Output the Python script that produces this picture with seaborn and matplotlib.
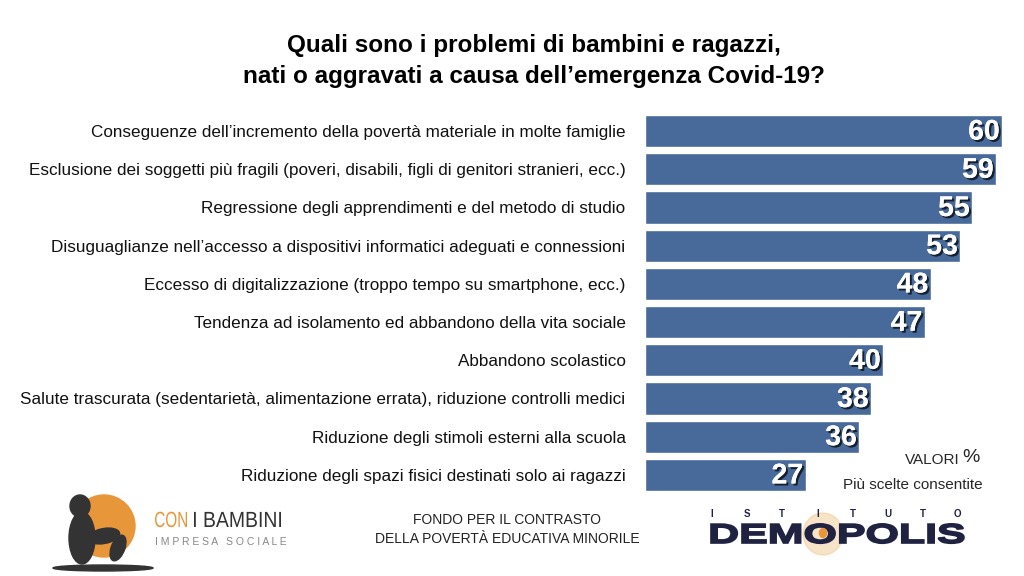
import matplotlib
matplotlib.use("Agg")
import matplotlib.pyplot as plt
import matplotlib.patheffects as pe
from matplotlib.patches import Ellipse, PathPatch
from matplotlib.textpath import TextPath
from matplotlib.font_manager import FontProperties
from matplotlib.transforms import Affine2D
import seaborn as sns
import pandas as pd

# data
categories = [
    "Conseguenze dell\u2019incremento della povert\u00e0 materiale in molte famiglie",
    "Esclusione dei soggetti pi\u00f9 fragili (poveri, disabili, figli di genitori stranieri, ecc.)",
    "Regressione degli apprendimenti e del metodo di studio",
    "Disuguaglianze nell\u2019accesso a dispositivi informatici adeguati e connessioni",
    "Eccesso di digitalizzazione (troppo tempo su smartphone, ecc.)",
    "Tendenza ad isolamento ed abbandono della vita sociale",
    "Abbandono scolastico",
    "Salute trascurata (sedentariet\u00e0, alimentazione errata), riduzione controlli medici",
    "Riduzione degli stimoli esterni alla scuola",
    "Riduzione degli spazi fisici destinati solo ai ragazzi",
]
values = [60, 59, 55, 53, 48, 47, 40, 38, 36, 27]

title = "Quali sono i problemi di bambini e ragazzi,\nnati o aggravati a causa dell\u2019emergenza Covid-19?"

df = pd.DataFrame({"cat": categories, "val": values})

sns.set_theme(style="white")
plt.rcParams["font.family"] = ["Liberation Sans", "DejaVu Sans"]

BAR = "#476a9a"
NAVY = "#1f2240"
ORANGE = "#e8963a"
W, H = 1024, 576
fig = plt.figure(figsize=(10.24, 5.76), dpi=100)
fig.patch.set_facecolor("white")


def squeezed(text, x0, x1, y_base, cap_h, color, weight="normal", lw=0):
    # logo text stretched to a given box (pixel coords from top-left)
    tp = TextPath((0, 0), text, size=100,
                  prop=FontProperties(family="Liberation Sans", weight=weight))
    ext = tp.get_extents()
    sx = (x1 - x0) / ext.width
    sy = cap_h / 72.9
    tr = (Affine2D().translate(-ext.x0, 0).scale(sx, sy)
          .translate(x0, H - y_base).scale(1 / 100.0) + fig.dpi_scale_trans)
    fig.add_artist(PathPatch(tp, transform=tr, facecolor=color, edgecolor=color,
                             lw=lw, zorder=3))


ax = fig.add_axes([645 / W, 1 - 494 / H, 357 / W, (494 - 112) / H])
sns.barplot(data=df, x="val", y="cat", color=BAR, saturation=1, width=0.84,
            orient="h", ax=ax)
ax.set_xlim(0, 60)
ax.set_ylim(9.5, -0.5)
ax.set_xlabel("")
ax.set_ylabel("")
ax.set_xticks([])
sns.despine(ax=ax, left=True, bottom=True)
ax.tick_params(axis="y", length=0, pad=14)
for lab in ax.get_yticklabels():
    lab.set_fontsize(12.3)
    lab.set_color("#111111")

shadow = [pe.withSimplePatchShadow(offset=(1.5, -1.5), shadow_rgbFace="black", alpha=0.7),
          pe.Normal()]
for i, v in enumerate(values):
    ax.text(v - 0.4, i + 0.04, str(v), ha="right", va="center", color="white",
            fontsize=20.5, fontweight="bold", path_effects=shadow)

fig.text(534 / W, 1 - 61 / H, title, ha="center", va="center", fontsize=17.5,
         fontweight="bold", linespacing=1.45, color="black")

fig.text(905 / W, 1 - 460 / H, "VALORI", ha="left", va="center", fontsize=11)
fig.text(962 / W, 1 - 458 / H, "%", ha="left", va="center", fontsize=14)
fig.text(913 / W, 1 - 485 / H, "Pi\u00f9 scelte consentite", ha="center",
         va="center", fontsize=11)

# CON I BAMBINI logo (approximated)
fig.add_artist(Ellipse((104 / W, 1 - 526 / H), 62 / W, 62 / H,
                       transform=fig.transFigure, color=ORANGE, zorder=1))
for (cx, cy, w, h, ang) in [(80, 506, 20, 22, 0), (82, 538, 26, 52, 0),
                            (104, 536, 34, 14, 35), (118, 548, 14, 26, -10)]:
    fig.add_artist(Ellipse((cx / W, 1 - cy / H), w / W, h / H, angle=ang,
                           transform=fig.transFigure, color="#333333", zorder=2))
fig.add_artist(Ellipse((103 / W, 1 - 568 / H), 100 / W, 6 / H,
                       transform=fig.transFigure, color="#333333", zorder=2))
squeezed("CON", 155, 187, 527, 16, ORANGE)
squeezed("I BAMBINI", 194, 281, 527, 16, "#333333")
fig.text(155 / W, 1 - 542 / H, "I M P R E S A   S O C I A L E", color="#888888",
         fontsize=7.5, ha="left", va="center")

fig.text(507 / W, 1 - 520 / H, "FONDO PER IL CONTRASTO", fontsize=10,
         ha="center", va="center", color="#222222")
fig.text(507 / W, 1 - 539 / H, "DELLA POVERT\u00c0 EDUCATIVA MINORILE", fontsize=10,
         ha="center", va="center", color="#222222")

# DEMOPOLIS logo (approximated)
for k, letter in enumerate("ISTITUTO"):
    fig.text((712 + k * 35.1) / W, 1 - 514 / H, letter, fontsize=7,
             ha="center", va="center", color=NAVY, fontweight="bold")
fig.add_artist(Ellipse((823 / W, 1 - 534 / H), 40 / W, 42 / H,
                       transform=fig.transFigure, color="#f0c890", alpha=0.5, zorder=1))
squeezed("DEMOPOLIS", 711, 964, 543, 20, NAVY, weight="bold", lw=1.2)
fig.add_artist(Ellipse((823 / W, 1 - 533 / H), 7 / W, 9 / H,
                       transform=fig.transFigure, color=ORANGE, zorder=4))

fig.savefig("out.png", dpi=100, facecolor="white")
